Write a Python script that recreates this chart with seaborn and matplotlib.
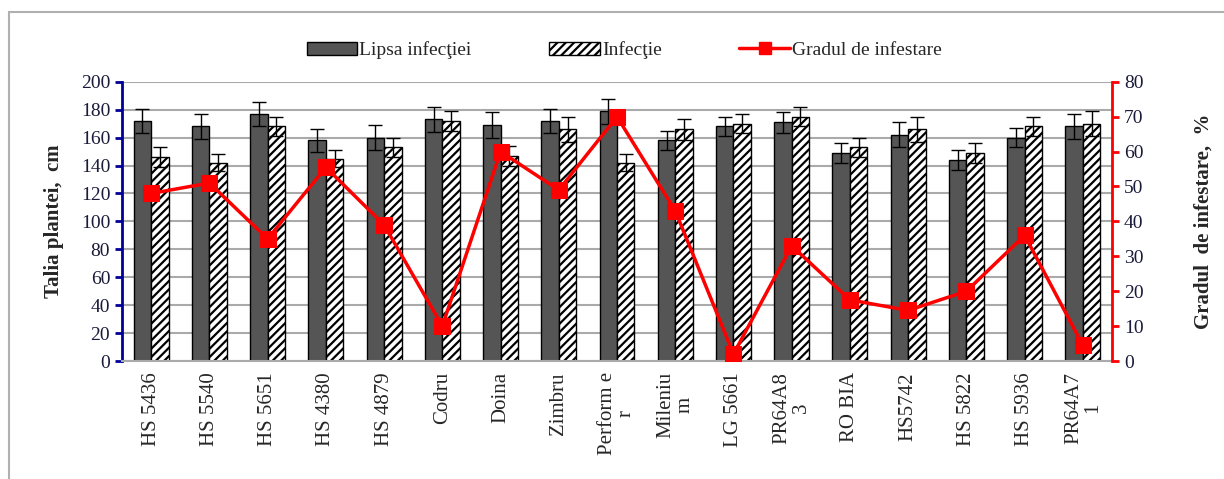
import numpy as np
import pandas as pd
import matplotlib
matplotlib.use('Agg')
import matplotlib.pyplot as plt
from matplotlib.patches import Patch
from matplotlib.lines import Line2D
import seaborn as sns

# soiuri / hibrizi
hibrizi = ['HS 5436', 'HS 5540', 'HS 5651', 'HS 4380', 'HS 4879', 'Codru', 'Doina',
           'Zimbru', 'Perform e\nr', 'Mileniu\nm', 'LG 5661', 'PR64A8\n3', 'RO BIA',
           'HS5742', 'HS 5822', 'HS 5936', 'PR64A7\n1']
# talia plantei, cm
lipsa_inf = [172, 168, 177, 158, 160, 173, 169, 172, 179, 158, 168, 171, 149, 162, 144, 160, 168]
lipsa_err = [8.5, 9, 8.5, 8, 9, 9, 9, 8.5, 9, 7, 7, 7.5, 7.5, 9, 7, 7, 9]
infectie = [146, 142, 168, 145, 153, 172, 147, 166, 142, 166, 170, 175, 153, 166, 149, 168, 170]
infectie_err = [7, 6, 7, 6, 7, 7, 7, 9, 6, 7.5, 7, 7, 7, 9, 7, 7, 9]
# gradul de infestare, %
grad_inf = [48, 51, 35, 55.5, 39, 10, 60, 49, 70, 43, 2, 33, 17.5, 14.5, 20, 36, 4.5]

sns.set_style('white')
plt.rcParams['font.family'] = ['Liberation Serif', 'DejaVu Serif']
plt.rcParams['hatch.linewidth'] = 1.6

df = pd.DataFrame({
    'hibrid': hibrizi * 2,
    'talia': lipsa_inf + infectie,
    'err': lipsa_err + infectie_err,
    'varianta': ['Lipsa infecţiei'] * len(hibrizi) + ['Infecţie'] * len(hibrizi),
})

fig = plt.figure(figsize=(12.24, 4.79), dpi=100)
ax = fig.add_axes([0.0997, 0.2463, 0.8088, 0.583])

sns.barplot(data=df, x='hibrid', y='talia', hue='varianta', ax=ax,
            palette=['#555555', 'white'], edgecolor='black', linewidth=1,
            width=0.6, errorbar=None, legend=False, zorder=2)

n = len(hibrizi)
for i, p in enumerate(ax.patches[:2 * n]):
    if i >= n:
        p.set_hatch('////')
    xc = p.get_x() + p.get_width() / 2
    ax.errorbar(xc, df['talia'][i], yerr=df['err'][i], color='black',
                capsize=5, elinewidth=1, capthick=1, zorder=3)

ax.set_ylim(0, 200)
ax.set_yticks(range(0, 201, 20))
ax.set_xlim(-0.5, n - 0.5)
ax.yaxis.grid(True, color='#aaaaaa', linewidth=1.5, zorder=0)
ax.set_axisbelow(True)
ax.set_xlabel('')
ax.set_ylabel('Talia plantei,  cm', fontsize=15, fontweight='bold', labelpad=12)
ax.set_xticks(range(n))
ax.set_xticklabels(hibrizi, rotation=90, fontsize=15, va='top', ha='center',
                   linespacing=1.0)
ax.tick_params(axis='x', length=0, pad=8)
ax.tick_params(axis='y', colors='#000099', labelcolor='#1a1a3a', labelsize=14,
               direction='out', length=5, width=2, left=True)
for s in ['top', 'right']:
    ax.spines[s].set_visible(False)
ax.spines['left'].set_color('#000099')
ax.spines['left'].set_linewidth(2)
ax.spines['bottom'].set_color('#aaaaaa')
ax.spines['bottom'].set_linewidth(1.5)

ax2 = ax.twinx()
sns.lineplot(x=np.arange(n), y=grad_inf, ax=ax2, color='#ff0000', marker='s',
             markersize=11, markeredgecolor='#ff0000', linewidth=2.5, zorder=5)
ax2.set_ylim(0, 80)
ax2.set_yticks(range(0, 81, 10))
ax2.set_ylabel('Gradul  de infestare,  %', fontsize=15, fontweight='bold', labelpad=36)
ax2.tick_params(axis='y', colors='#ff0000', labelcolor='#1a1a3a', labelsize=14,
                direction='out', length=5, width=2)
for s in ['top', 'left', 'bottom']:
    ax2.spines[s].set_visible(False)
ax2.spines['right'].set_color('#ff0000')
ax2.spines['right'].set_linewidth(2)

handles = [Patch(facecolor='#555555', edgecolor='black', label='Lipsa infecţiei'),
           Patch(facecolor='white', edgecolor='black', hatch='////', label='Infecţie'),
           Line2D([0], [0], color='#ff0000', marker='s', markersize=9, linewidth=2.5,
                  label='Gradul de infestare')]
fig.legend(handles=handles, loc='center', bbox_to_anchor=(0.51, 0.895), ncol=3,
           frameon=False, fontsize=14, handlelength=2.6, handletextpad=0.1,
           columnspacing=4.0)

# chenarul diagramei
fig.add_artist(Line2D([9 / 1224, 9 / 1224], [0, 1 - 12 / 479], color='#b0b0b0', linewidth=1.5))
fig.add_artist(Line2D([9 / 1224, 1], [1 - 12 / 479, 1 - 12 / 479], color='#b0b0b0', linewidth=1.5))

fig.savefig('out.png', dpi=100)
